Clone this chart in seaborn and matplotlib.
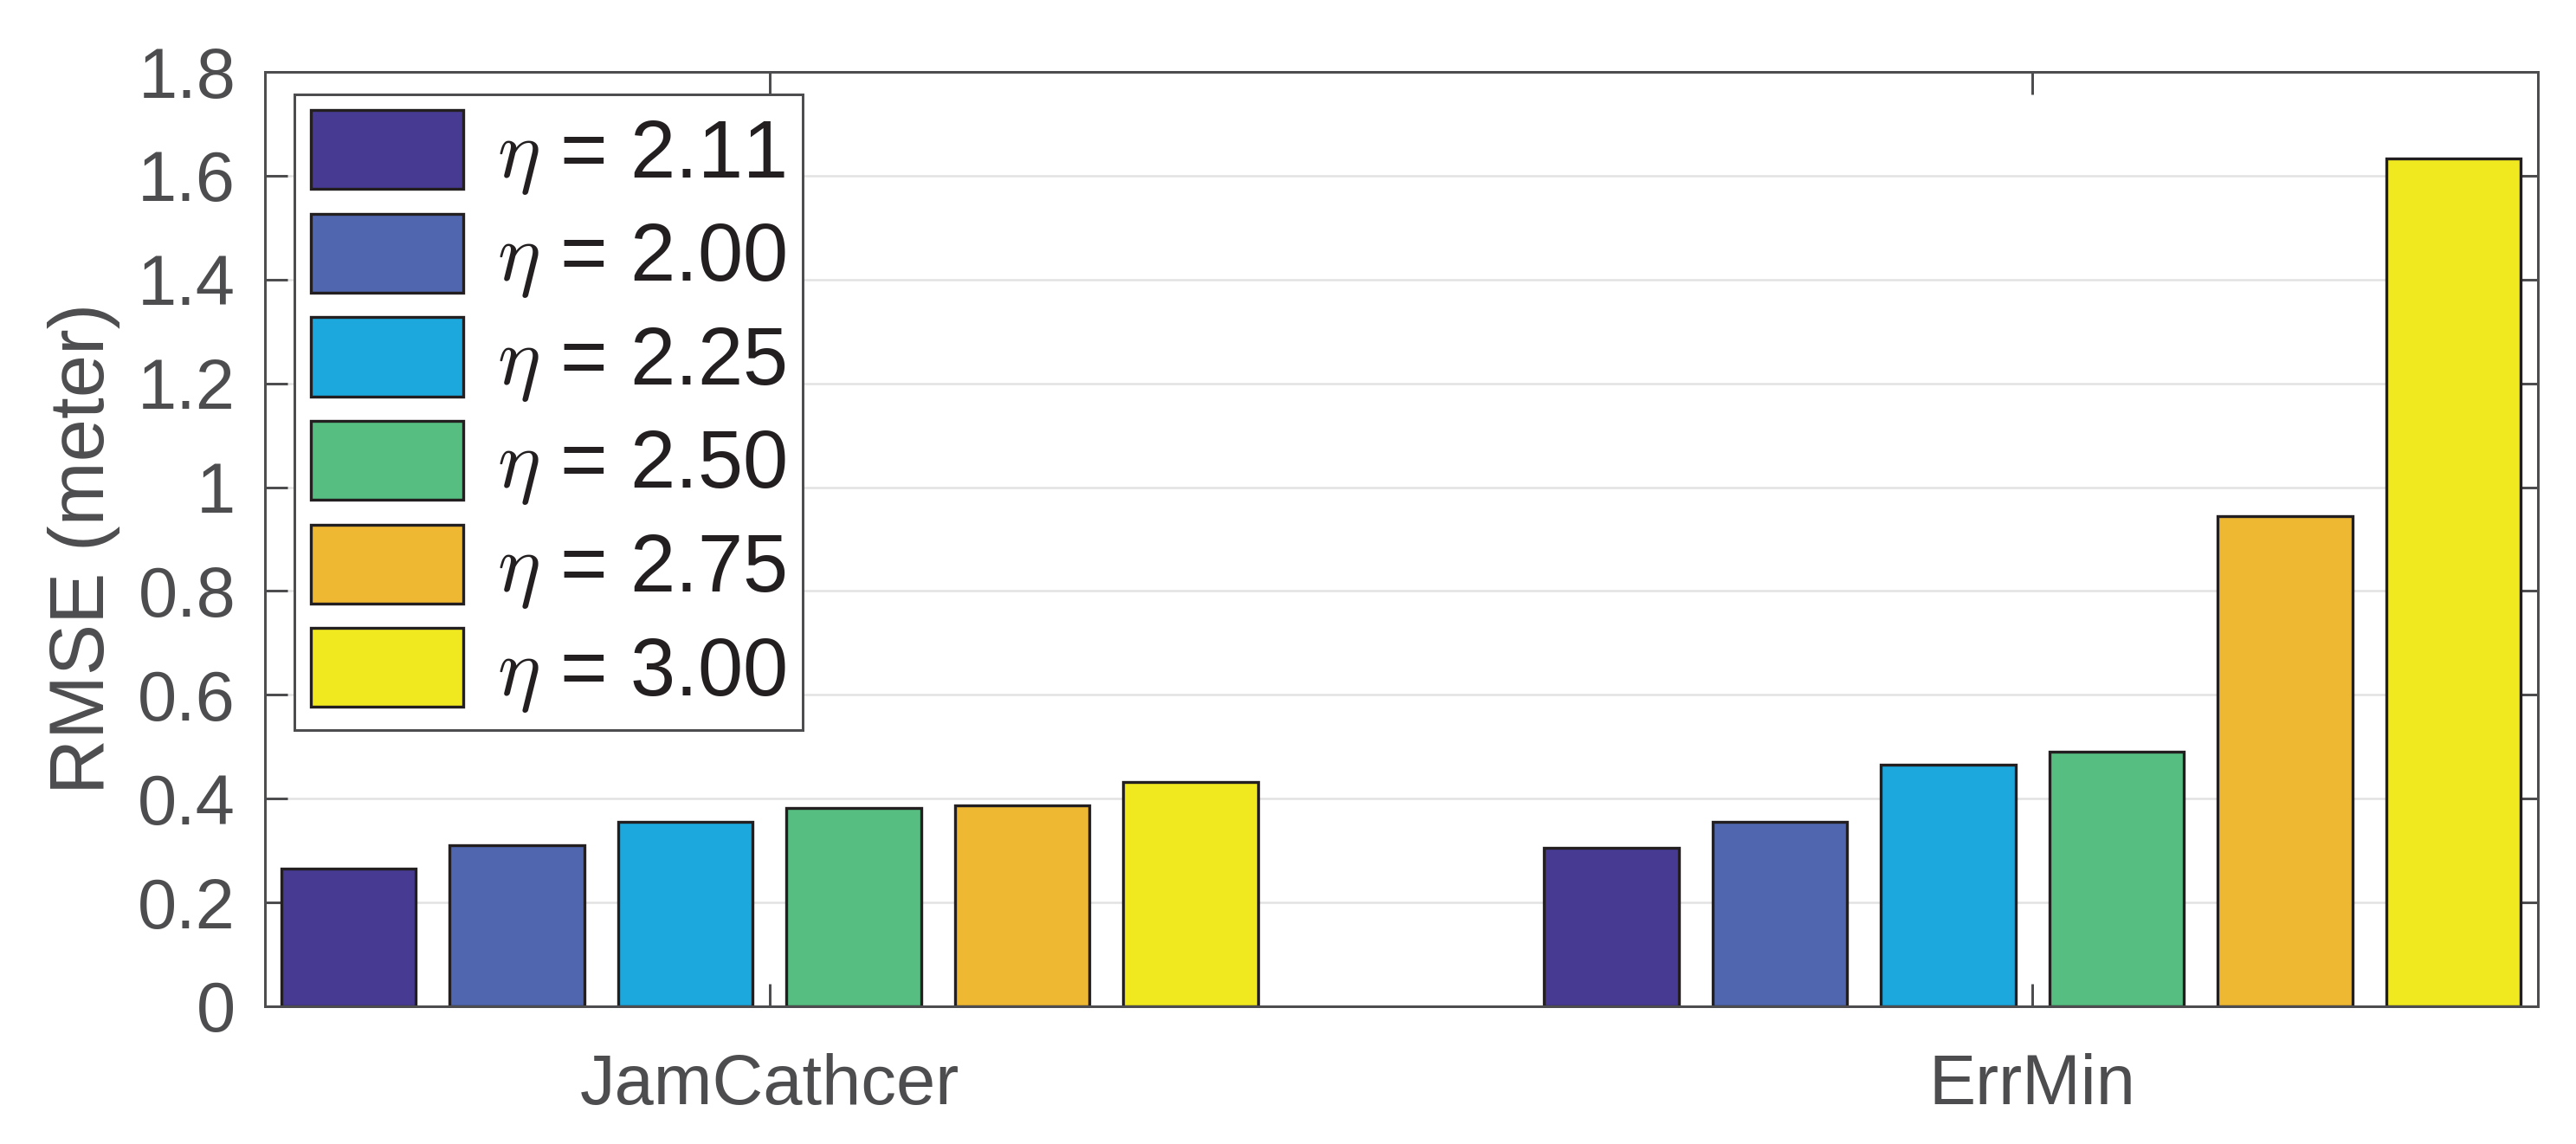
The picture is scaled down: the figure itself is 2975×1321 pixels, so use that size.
import matplotlib
matplotlib.use('Agg')
import matplotlib.pyplot as plt
import seaborn as sns
import pandas as pd

# values
methods = ['JamCathcer', 'ErrMin']
eta_values = ['2.11', '2.00', '2.25', '2.50', '2.75', '3.00']
rmse_jamcathcer = [0.266, 0.310, 0.355, 0.382, 0.387, 0.432]
rmse_errmin = [0.306, 0.355, 0.465, 0.491, 0.945, 1.634]
bar_colors = ['#463a93', '#5066af', '#1da8dd', '#56be81', '#eeb833', '#f0e920']
ytick_values = [0, 0.2, 0.4, 0.6, 0.8, 1.0, 1.2, 1.4, 1.6, 1.8]
ytick_labels = ['0', '0.2', '0.4', '0.6', '0.8', '1', '1.2', '1.4', '1.6', '1.8']

# long format table for seaborn
rows = []
for method, vals in zip(methods, [rmse_jamcathcer, rmse_errmin]):
    for eta, v in zip(eta_values, vals):
        rows.append({'method': method, 'eta': f'$\\eta$ = {eta}', 'rmse': v})
df = pd.DataFrame(rows)
hue_order = [f'$\\eta$ = {eta}' for eta in eta_values]

sns.set_theme(style='ticks')
plt.rcParams['font.family'] = ['Liberation Sans', 'DejaVu Sans']
plt.rcParams['mathtext.fontset'] = 'cm'

gray = '#4d4d4f'
dark = '#231f20'

fig = plt.figure(figsize=(2975 / 300, 1321 / 300), dpi=300)
ax = fig.add_axes([305.5 / 2975, 1 - 1162 / 1321, 2625 / 2975, 1079 / 1321])

sns.barplot(data=df, x='method', y='rmse', hue='eta', order=methods,
            hue_order=hue_order, palette=bar_colors, saturation=1,
            width=0.8, gap=0.2, edgecolor=dark, linewidth=0.8,
            errorbar=None, ax=ax)

ax.set_xlim(-0.4, 1.4)
ax.set_ylim(0, 1.8)
ax.set_yticks(ytick_values, ytick_labels)
ax.set_xlabel('')
ax.set_ylabel('RMSE (meter)', fontsize=21.3, color=gray)
ax.yaxis.set_label_coords(-0.0634, 0.49)

ax.yaxis.grid(True, color='#e2e2e2', linewidth=0.6)
ax.set_axisbelow(True)
for sp in ax.spines.values():
    sp.set_visible(True)
    sp.set_color(gray)
    sp.set_linewidth(0.72)
ax.tick_params(axis='both', direction='in', length=6.2, width=0.72,
               color=gray, labelcolor=gray, labelsize=19.5,
               top=True, right=True)
ax.tick_params(axis='x', pad=13)
ax.tick_params(axis='y', pad=8)

# legend
handles, labels = ax.get_legend_handles_labels()
leg = ax.legend(handles, labels, loc='upper left',
                bbox_to_anchor=(34.5 / 2625, 1 - 25.5 / 1079), borderaxespad=0,
                fontsize=22.5, frameon=True, fancybox=False, framealpha=1,
                edgecolor=gray, handlelength=1.88, handleheight=1.12,
                handletextpad=0.42, labelspacing=0.215, borderpad=0.2,
                labelcolor=dark)
leg.get_frame().set_linewidth(0.72)
for h in leg.legend_handles:
    h.set_edgecolor(dark)
    h.set_linewidth(0.8)

fig.savefig('out.png', dpi=300)
